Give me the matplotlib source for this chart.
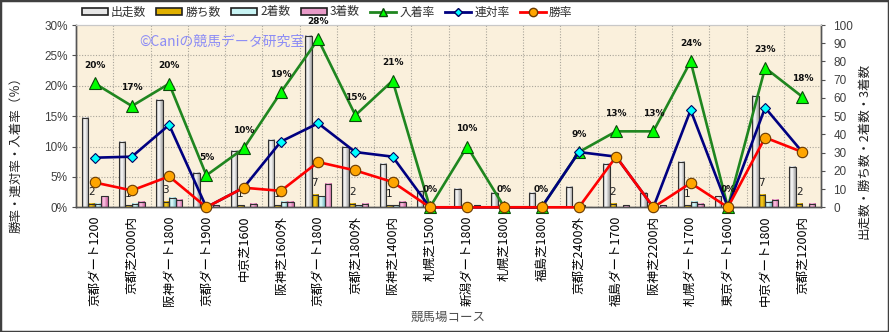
import matplotlib
matplotlib.use('Agg')
import matplotlib.pyplot as plt
import numpy as np
from matplotlib.colors import LinearSegmentedColormap
from matplotlib.patches import Patch, Rectangle
from matplotlib.lines import Line2D

plt.rcParams['font.family'] = ['Noto Sans CJK JP', 'DejaVu Sans']

courses = ['京都ダート1200', '京都芝2000内', '阪神ダート1800', '京都ダート1900',
           '中京芝1600', '阪神芝1600外', '京都ダート1800', '京都芝1800外',
           '阪神芝1400内', '札幌芝1500', '新潟ダート1800', '札幌芝1800',
           '福島芝1800', '京都芝2400外', '福島ダート1700', '阪神芝2200内',
           '札幌ダート1700', '東京ダート1600', '中京ダート1800', '京都芝1200内']
starts = [49, 36, 59, 19, 31, 37, 94, 33, 24, 9, 10, 8, 8, 11, 24, 8, 25, 6, 61, 22]
wins = [2, 1, 3, 0, 1, 1, 7, 2, 1, 0, 0, 0, 0, 0, 2, 0, 1, 0, 7, 2]
seconds = [2, 2, 5, 0, 0, 3, 6, 1, 1, 0, 0, 0, 0, 1, 0, 0, 3, 0, 3, 0]
thirds = [6, 3, 4, 1, 2, 3, 13, 2, 3, 0, 1, 0, 0, 0, 1, 1, 2, 0, 4, 2]

pct_ticks = [0, 5, 10, 15, 20, 25, 30]
cnt_ticks = [0, 10, 20, 30, 40, 50, 60, 70, 80, 90, 100]

n_starts = np.array(starts, dtype=float)
win_rate = np.array(wins) / n_starts * 100
rentai_rate = (np.array(wins) + np.array(seconds)) / n_starts * 100
place_rate = (np.array(wins) + np.array(seconds) + np.array(thirds)) / n_starts * 100

x = np.arange(len(courses))
bg = '#FAF0DC'

fig = plt.figure(figsize=(8.89, 3.32), dpi=100)
ax = fig.add_axes([76 / 889, 1 - 207.3 / 332, 745 / 889, 182.3 / 332])
ax2 = ax.twinx()
ax.set_zorder(ax2.get_zorder() + 1)
ax.patch.set_visible(False)
ax2.patch.set_visible(True)
ax2.patch.set_facecolor(bg)

# dotted grid sits on the count axis so the bars cover it
for v in np.array(pct_ticks[1:-1]) * 100 / 30:
    ax2.axhline(v, color='#A9A59A', ls=(0, (1, 1.5)), lw=0.8, zorder=1)
for b in np.arange(0.5, len(courses) - 0.5, 1):
    ax2.axvline(b, color='#A9A59A', ls=(0, (1, 1.5)), lw=0.8, zorder=1)

# bars with a cylinder-like shading
w = 0.175
offsets = np.array([-1.5, -0.5, 0.5, 1.5]) * w
bar_sets = [
    (starts, '#9A9A9A', '#FFFFFF'),
    (wins, '#A07800', '#FFD21E'),
    (seconds, '#78BCC4', '#E4FFFF'),
    (thirds, '#C8609C', '#FFC8E6'),
]
grad = np.linspace(0, 1, 64).reshape(1, -1)
for (vals, c_edge, c_mid), off in zip(bar_sets, offsets):
    cmap = LinearSegmentedColormap.from_list('', [(0, c_edge), (0.4, c_mid), (1, c_edge)])
    bars = ax2.bar(x + off, vals, width=w, facecolor='none', edgecolor='#303030',
                   linewidth=0.8, zorder=3)
    for b in bars:
        h = b.get_height()
        if h <= 0:
            continue
        x0 = b.get_x()
        ax2.imshow(grad, cmap=cmap, extent=(x0, x0 + w, 0, h), aspect='auto',
                   origin='lower', zorder=2.5, interpolation='bilinear')

# number of wins over the gold bar
for xi, v in zip(x, wins):
    if v > 0:
        ax2.annotate(str(v), (xi + offsets[1], v), xytext=(0, 8.5),
                     textcoords='offset points', ha='center', va='center',
                     fontsize=7.5, family='DejaVu Sans', color='#202020', zorder=5)

ax2.set_xlim(-0.5, len(courses) - 0.5)
ax2.set_ylim(0, 100)
ax2.set_yticks(cnt_ticks)
ax2.set_yticklabels([str(t) for t in cnt_ticks], family='Liberation Sans',
                    fontsize=8.5, color='#404040')

# rate lines
ax.plot(x, place_rate, color='#1F861F', lw=1.9, marker='^', ms=8.5,
        mfc='#00FF00', mec='#0A4A0A', mew=0.8, zorder=3, clip_on=False)
ax.plot(x, rentai_rate, color='#000080', lw=1.9, marker='D', ms=5.5,
        mfc='#00FFFF', mec='#000060', mew=0.8, zorder=4, clip_on=False)
ax.plot(x, win_rate, color='#FF0000', lw=1.9, marker='o', ms=7.5,
        mfc='#FFA500', mec='#6A3A00', mew=0.8, zorder=5, clip_on=False)

for xi, r in zip(x, place_rate):
    ax.annotate(f'{int(np.floor(r + 0.5))}%', (xi, r), xytext=(0, 13),
                textcoords='offset points', ha='center', va='center',
                fontsize=6.5, fontweight='bold', family='DejaVu Sans',
                color='#101010', zorder=6)

ax.set_xlim(-0.5, len(courses) - 0.5)
ax.set_ylim(0, 30)
ax.set_yticks(pct_ticks)
ax.set_yticklabels([f'{t}%' for t in pct_ticks], family='Liberation Sans',
                   fontsize=8.5, color='#404040')
ax.set_xticks(x)
ax.set_xticklabels(courses, rotation=90, fontsize=9, va='top', ha='center')
ax.tick_params(axis='x', length=0, pad=6)
ax.tick_params(axis='y', length=3, color='#505050', pad=3)
ax2.tick_params(axis='y', length=3, color='#505050', pad=6)

for a in (ax, ax2):
    for s in ('left', 'right', 'bottom'):
        a.spines[s].set_color('#555555')
        a.spines[s].set_linewidth(1.0)
    a.spines['top'].set_color('#C8C8C8')

fig.text(16 / 889, 1 - 152 / 332, '勝率・連対率・入着率（％）', rotation=90,
         ha='center', va='center', fontsize=9, color='#202020')
fig.text(864 / 889, 1 - 151 / 332, '出走数・勝ち数・2着数・3着数', rotation=90,
         ha='center', va='center', fontsize=9, color='#202020')
fig.text(448 / 889, 1 - 317 / 332, '競馬場コース', ha='center', va='center',
         fontsize=9, color='#505050')
fig.text(139 / 889, 1 - 42 / 332, '©Caniの競馬データ研究室', ha='left', va='center',
         fontsize=10, color='#8C8CF5')

handles = [
    Patch(facecolor='#E6E6E6', edgecolor='#202020', lw=1.2),
    Patch(facecolor='#E0B000', edgecolor='#202020', lw=1.2),
    Patch(facecolor='#C8F4F4', edgecolor='#202020', lw=1.2),
    Patch(facecolor='#E89AC8', edgecolor='#202020', lw=1.2),
    Line2D([], [], color='#1F861F', lw=2.0, marker='^', ms=6, mfc='#00FF00', mec='#0A4A0A'),
    Line2D([], [], color='#000080', lw=2.0, marker='D', ms=4.5, mfc='#00FFFF', mec='#000060'),
    Line2D([], [], color='#FF0000', lw=2.0, marker='o', ms=6, mfc='#FFA500', mec='#6A3A00'),
]
labels = ['出走数', '勝ち数', '2着数', '3着数', '入着率', '連対率', '勝率']
leg = fig.legend(handles, labels, loc='center', bbox_to_anchor=(327 / 889, 1 - 12 / 332),
                 ncol=7, frameon=False, fontsize=8.5, handlelength=2.2, handleheight=0.6,
                 handletextpad=0.25, columnspacing=0.9, borderpad=0.1)
for t in leg.get_texts():
    t.set_color('#303030')

fig.patches.append(Rectangle((0, 0), 1, 1, transform=fig.transFigure, fill=False,
                             edgecolor='#404040', lw=2.5))

fig.savefig('out.png', dpi=100)
